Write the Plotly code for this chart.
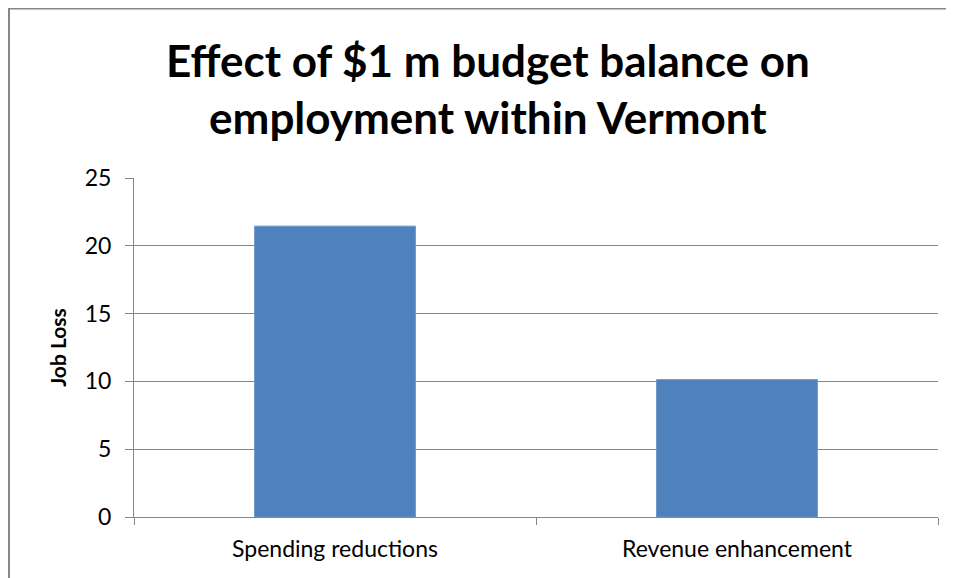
import plotly.graph_objects as go

categories = ["Spending reductions", "Revenue enhancement"]
job_loss = [21.45, 10.13]
y_ticks = [0, 5, 10, 15, 20, 25]

W, H = 954, 578
L, R, T, B = 126, 24, 170, 69
pw = W - L - R
ph = H - T - B

fig = go.Figure(go.Bar(
    x=categories, y=job_loss, width=0.4,
    marker=dict(color="#4F81BD", line=dict(color="#6C94CC", width=1)),
))

font_family = "Lato"
title_center_fig_y = 80
fig.update_layout(
    width=W, height=H,
    margin=dict(l=L, r=R, t=T, b=B, pad=0),
    paper_bgcolor="white", plot_bgcolor="white",
    showlegend=False,
    font=dict(family=font_family, color="black"),
    annotations=[dict(
        text="<b>Effect of $1 m budget balance on<br>employment within Vermont</b>",
        xref="paper", yref="paper",
        x=(480 - L) / pw, xanchor="center",
        y=1 + (T - title_center_fig_y) / ph, yanchor="middle",
        showarrow=False, align="center",
        font=dict(size=44, family=font_family, color="black"),
    )],
    xaxis=dict(
        type="category", tickson="boundaries",
        ticks="outside", ticklen=7, tickcolor="#868686", tickwidth=1,
        showline=True, linecolor="#868686", linewidth=1,
        showgrid=False, tickfont=dict(size=23), range=[-0.5, 1.5],
        ticklabelstandoff=11,
    ),
    yaxis=dict(
        range=[0, 25], tickvals=y_ticks,
        ticks="outside", ticklen=8, tickcolor="#868686", tickwidth=1,
        showline=True, linecolor="#868686", linewidth=1,
        showgrid=True, gridcolor="#868686", gridwidth=1,
        zeroline=False, tickfont=dict(size=23),
        ticklabelstandoff=9,
        title=dict(text="<b>Job Loss</b>", font=dict(size=21), standoff=12),
    ),
    shapes=[dict(
        type="rect", xref="paper", yref="paper",
        x0=(1 - L) / pw, x1=(W + 20 - L) / pw,
        y0=-(B + 30) / ph, y1=1 + (T - 0.5) / ph,
        line=dict(color="#868686", width=2), fillcolor="rgba(0,0,0,0)", layer="below",
    )],
)

fig.write_html("out.html")
